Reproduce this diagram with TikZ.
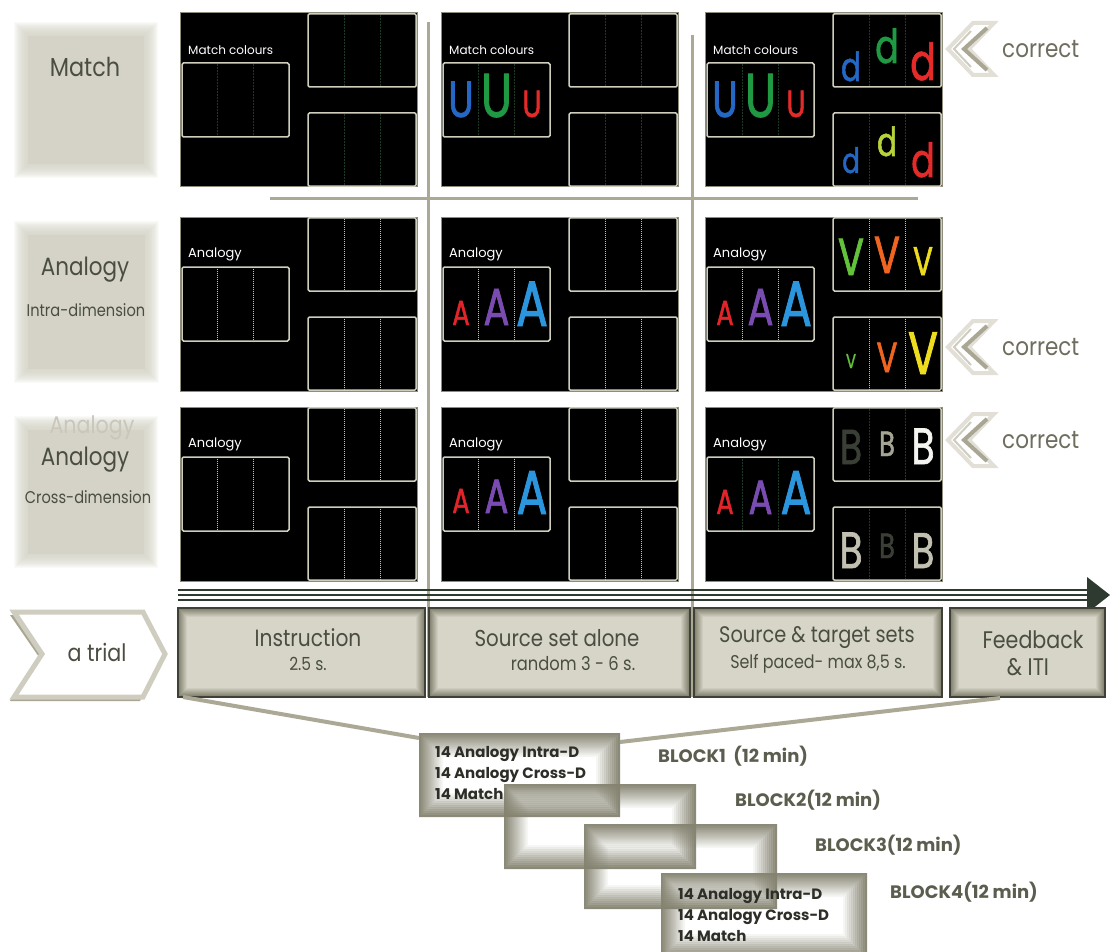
\documentclass[tikz,border=0pt]{standalone}
\usepackage{fontspec}
\setmainfont{Poppins}[FakeStretch=0.86]
\newfontfamily\glyphfont{Poppins}[FakeStretch=0.74,FakeBold=1.3]
\newfontfamily\widefont{Poppins}
\usetikzlibrary{calc}
\definecolor{labbg}{HTML}{D5D3C7}
\definecolor{labtext}{HTML}{4A4E41}
\definecolor{ghostc}{HTML}{C9C7BC}
\definecolor{sepc}{HTML}{ABA996}
\definecolor{panelbd}{HTML}{8E8C7A}
\definecolor{framec}{HTML}{CFCDBB}
\definecolor{divdark}{HTML}{1E3A26}
\definecolor{divlight}{HTML}{C4C2AE}
\definecolor{tline}{HTML}{2E3A2F}
\definecolor{bevedge}{HTML}{7E7C69}
\definecolor{bevfill}{HTML}{D8D6C9}
\definecolor{bevdark}{HTML}{3F4136}
\definecolor{blkedge}{HTML}{858370}
\definecolor{blktext}{HTML}{2C2E27}
\definecolor{blklab}{HTML}{5B5D4E}
\definecolor{chevbd}{HTML}{CFCDBF}
\definecolor{chevsh}{HTML}{A9A794}
\definecolor{chevglow}{HTML}{E2E0D6}
\definecolor{corrtext}{HTML}{6E6D5E}
\definecolor{funnelc}{HTML}{ABA996}
\definecolor{ublue}{HTML}{2467C4}
\definecolor{ugreen}{HTML}{1F9A43}
\definecolor{ured}{HTML}{E42B2A}
\definecolor{dyg}{HTML}{B7D33A}
\definecolor{ared}{HTML}{E3242B}
\definecolor{apurple}{HTML}{7A4CB2}
\definecolor{ablue}{HTML}{2B95DD}
\definecolor{vgreen}{HTML}{63C13A}
\definecolor{vorange}{HTML}{F0651F}
\definecolor{vyellow}{HTML}{EEDC1E}
\definecolor{bdark}{HTML}{3A3F35}
\definecolor{bgray}{HTML}{A5A495}
\definecolor{bwhite}{HTML}{F4F4F0}
\definecolor{blight}{HTML}{C2C1B1}

\newcommand\scrpanel[5]{%
\begin{scope}[shift={(#2,#3)}]
\node[scrbox] (#1) at (0,0) {};
\draw[frm] (2,50) rectangle (109,124);
\draw[#5] (37.7,51.5)--(37.7,122.5) (73.3,51.5)--(73.3,122.5);
\draw[frm] (128,0.8) rectangle (236.2,74);
\draw[#5] (164,2)--(164,73) (200,2)--(200,73);
\draw[frm] (128,100) rectangle (236.2,173.2);
\draw[#5] (164,101.5)--(164,172) (200,101.5)--(200,172);
\node[scrlab] (#1l) at (8,37) {#4};
\end{scope}}

\newcommand\glyph[6]{\node[glyphst, text=#5, font=\glyphfont\fontsize{#4}{#4}\selectfont] (#1) at (#2,#3) {#6};}

\newcommand\softbox[5]{%
\foreach \k in {14,13,...,1}{\fill[labbg, opacity=0.11] ({#2-\k},{#3-\k}) rectangle ({#4+\k},{#5+\k});}
\node[fill=labbg, inner sep=0, outer sep=0, anchor=north west, minimum width={#4-#2}, minimum height={#5-#3}] (#1) at (#2,#3) {};}

\newcommand\corrmark[3]{%
\begin{scope}[shift={(#2,#3)}]
\draw[line width=4, chevglow, fill=white, line join=miter] (0,0) -- (25,-26) -- (46,-26) -- (21,0) -- (46,26) -- (25,26) -- cycle;
\draw[line width=4, chevsh, line join=miter] (39,-21) -- (16,0) -- (39,21);
\draw[line width=2, chevbd, line join=miter] (23,-18) -- (6,0) -- (23,18);
\node[corr, anchor=west] (#1) at (54,0) {correct};
\end{scope}}

\begin{document}
\begin{tikzpicture}[x=1pt,y=-1pt,
  scrbox/.style={fill=black, draw=panelbd, line width=1, anchor=north west, minimum width=237, minimum height=174, inner sep=0, outer sep=0},
  frm/.style={draw=framec, line width=1.5, rounded corners=1.5},
  dvd/.style={divdark, line width=0.6, dash pattern=on 2pt off 1pt},
  dvl/.style={divlight, line width=0.8, dash pattern=on 1pt off 1pt},
  scrlab/.style={anchor=west, text=white, inner sep=0},
  glyphst/.style={anchor=base, inner sep=0},
  lab/.style={text=labtext, inner sep=0},
  sep/.style={sepc, line width=3},
  corr/.style={text=corrtext, inner sep=0, font=\fontsize{25}{25}\selectfont},
  trialbox/.style={anchor=north west, inner sep=0, outer sep=0, fill=bevfill, draw=bevdark, line width=1.2,
    path picture={\foreach \k in {0,...,9}{\pgfmathtruncatemacro\pc{100-\k*11}
      \fill[bevedge!\pc!bevfill] ([xshift=\k pt,yshift=-\k pt]path picture bounding box.north west) rectangle ([xshift=-\k pt,yshift=\k pt]path picture bounding box.south east);}}},
  blockbox/.style={anchor=north west, inner sep=0, outer sep=0,
    path picture={\foreach \k in {0,...,11}{\pgfmathsetmacro\op{0.95-\k*0.08}\pgfmathsetmacro\ka{2*\k}\pgfmathsetmacro\kb{2*\k+2}
      \fill[blkedge, fill opacity=\op, even odd rule] ([xshift=\ka pt,yshift=-\ka pt]path picture bounding box.north west) rectangle ([xshift=-\ka pt,yshift=\ka pt]path picture bounding box.south east)
        ([xshift=\kb pt,yshift=-\kb pt]path picture bounding box.north west) rectangle ([xshift=-\kb pt,yshift=\kb pt]path picture bounding box.south east);}}},
  blktxt/.style={text=blktext, inner sep=0, align=left, anchor=north west, font=\widefont\bfseries\fontsize{15}{21}\selectfont},
  blklabel/.style={text=blklab, inner sep=0, anchor=west, font=\widefont\bfseries\fontsize{18}{18}\selectfont},
  funnel/.style={funnelc, line width=4}
]
\useasboundingbox (0,0) rectangle (1110,952);
\fill[white] (0,0) rectangle (1110,952);

% left labels
\softbox{boxmatch}{28}{36}{144}{164}
\softbox{boxintra}{28}{235}{145}{369}
\softbox{boxcross}{28}{430}{144}{554}
\node[lab, font=\fontsize{26}{26}\selectfont] (lmatch) at (85,67) {Match};
\node[lab, font=\fontsize{25}{25}\selectfont] (lintra) at (85,270) {Analogy};
\node[lab, font=\fontsize{17}{17}\selectfont] (lintrad) at (86,310) {Intra-dimension};
\node[text=ghostc, inner sep=0, font=\fontsize{24}{24}\selectfont] (lghost) at (92,428) {Analogy};
\node[lab, font=\fontsize{25}{25}\selectfont] (lcross) at (85,460) {Analogy};
\node[lab, font=\fontsize{17}{17}\selectfont] (lcrossd) at (88,497) {Cross-dimension};

% separators
\draw[sep] (428,22) -- (428,697);
\draw[sep] (692,35) -- (692,697);
\draw[sep] (270,198) -- (918,198);

% panels
\scrpanel{p11}{180}{13}{\widefont\fontsize{12}{12}\selectfont Match colours}{dvd}
\scrpanel{p12}{441}{13}{\widefont\fontsize{12}{12}\selectfont Match colours}{dvd}
\scrpanel{p13}{705}{13}{\widefont\fontsize{12}{12}\selectfont Match colours}{dvd}
\scrpanel{p21}{180}{217}{\widefont\fontsize{13}{13}\selectfont Analogy}{dvl}
\scrpanel{p22}{441}{217}{\widefont\fontsize{13}{13}\selectfont Analogy}{dvl}
\scrpanel{p23}{705}{217}{\widefont\fontsize{13}{13}\selectfont Analogy}{dvl}
\scrpanel{p31}{180}{407}{\widefont\fontsize{13}{13}\selectfont Analogy}{dvl}
\scrpanel{p32}{441}{407}{\widefont\fontsize{13}{13}\selectfont Analogy}{dvl}
\scrpanel{p33}{705}{407}{\widefont\fontsize{13}{13}\selectfont Analogy}{dvd}

% row 1 letters
\glyph{u21}{461}{117}{51}{ublue}{U}
\glyph{u22}{496.5}{117}{62}{ugreen}{U}
\glyph{u23}{532}{117}{38}{ured}{U}
\glyph{u31}{725}{117}{51}{ublue}{U}
\glyph{u32}{760.5}{117}{62}{ugreen}{U}
\glyph{u33}{796}{117}{38}{ured}{U}
\glyph{d1}{851}{81}{40}{ublue}{d}
\glyph{d2}{887}{63}{47}{ugreen}{d}
\glyph{d3}{923}{80}{51}{ured}{d}
\glyph{d4}{851}{173}{35}{ublue}{d}
\glyph{d5}{887}{156}{40}{dyg}{d}
\glyph{d6}{923}{177}{47}{ured}{d}
% row 2 letters
\glyph{a21}{461}{325}{35}{ared}{A}
\glyph{a22}{496.5}{325}{52}{apurple}{A}
\glyph{a23}{532}{326}{64}{ablue}{A}
\glyph{a31}{725}{325}{35}{ared}{A}
\glyph{a32}{760.5}{325}{52}{apurple}{A}
\glyph{a33}{796}{326}{64}{ablue}{A}
\glyph{v1}{851}{275}{52}{vgreen}{V}
\glyph{v2}{887}{273}{52}{vorange}{V}
\glyph{v3}{923}{275}{40}{vyellow}{V}
\glyph{v4}{851}{368}{20}{vgreen}{V}
\glyph{v5}{887}{372}{42}{vorange}{V}
\glyph{v6}{923}{374}{60}{vyellow}{V}
% row 3 letters
\glyph{b21}{461}{513}{35}{ared}{A}
\glyph{b22}{496.5}{513}{48}{apurple}{A}
\glyph{b23}{532}{514}{62}{ablue}{A}
\glyph{b31}{725}{514}{35}{ared}{A}
\glyph{b32}{760.5}{514}{48}{apurple}{A}
\glyph{b33}{796}{514}{62}{ablue}{A}
\glyph{bb1}{851}{464}{49}{bdark}{B}
\glyph{bb2}{887}{456}{35}{bgray}{B}
\glyph{bb3}{923}{464}{51}{bwhite}{B}
\glyph{bb4}{851}{568}{51}{blight}{B}
\glyph{bb5}{887}{558}{35}{bdark}{B}
\glyph{bb6}{923}{568}{50}{blight}{B}

% correct marks
\corrmark{c1}{948}{49}
\corrmark{c2}{948}{347}
\corrmark{c3}{948}{440}

% timeline
\coordinate (tl0) at (178,595);
\coordinate (tl1) at (1087,595);
\coordinate (tltip) at (1110,595);
\foreach \dy in {-5,0,5}{\draw[tline, line width=2.4] ([yshift=\dy pt]tl0) -- ([yshift=\dy pt]tl1);}
\fill[tline] ([yshift=18pt]tl1) -- (tltip) -- ([yshift=-18pt]tl1) -- cycle;

% a trial chevron
\fill[chevsh] (10,615)--(140,615)--(162,657)--(140,701)--(10,701)--(39,657)--cycle;
\draw[chevbd, line width=5, fill=white, line join=miter] (14,612)--(143,612)--(165,654)--(143,697)--(14,697)--(42,654)--cycle;
\node[lab, font=\fontsize{24}{24}\selectfont] (trial) at (97,652) {a trial};

% trial boxes
\node[trialbox, minimum width=247, minimum height=89] (tb1) at (178,608) {};
\node[trialbox, minimum width=261, minimum height=89] (tb2) at (429,608) {};
\node[trialbox, minimum width=248, minimum height=89] (tb3) at (694,608) {};
\node[trialbox, minimum width=155, minimum height=89] (tb4) at (950,608) {};
\node[lab, font=\fontsize{23.5}{23.5}\selectfont] (tb1a) at (308,638) {Instruction};
\node[lab, font=\fontsize{18}{18}\selectfont] (tb1b) at (308,664) {2.5 s.};
\node[lab, font=\fontsize{23}{23}\selectfont] (tb2a) at (557,638) {Source set alone};
\node[lab, font=\fontsize{19}{19}\selectfont] (tb2b) at (573,664) {random 3 - 6 s.};
\node[lab, font=\fontsize{22.5}{22.5}\selectfont] (tb3a) at (817,638) {Source \& target sets};
\node[lab, font=\fontsize{18.5}{18.5}\selectfont] (tb3b) at (818,664) {Self paced- max 8,5 s.};
\node[lab, font=\fontsize{24}{24}\selectfont] (tb4a) at (1033,640) {Feedback};
\node[lab, font=\fontsize{24}{24}\selectfont] (tb4b) at (1028,667) {\& ITI};

% blocks
\node[blockbox, minimum width=201, minimum height=84] (blk1) at (419,733) {};
\node[blockbox, minimum width=192, minimum height=85] (blk2) at (504,784) {};
\node[blockbox, minimum width=193, minimum height=85] (blk3) at (584,824) {};
\node[blockbox, minimum width=206, minimum height=85] (blk4) at (661,873) {};
\coordinate (fbpt) at (1000,698);
\draw[funnel] ([xshift=5pt]tb1.south west) -- ([yshift=-5pt]blk1.north west);
\draw[funnel] (fbpt) -- ([yshift=-9pt]blk1.north east);
\node[blktxt] (blk1t) at (435,746) {14 Analogy Intra-D\\14 Analogy Cross-D\\14 Match};
\node[blktxt] (blk4t) at (678,888) {14 Analogy Intra-D\\14 Analogy Cross-D\\14 Match};
\node[blklabel] (bl1) at (658,756) {BLOCK1\ \ (12 min)};
\node[blklabel] (bl2) at (735,800) {BLOCK2(12 min)};
\node[blklabel] (bl3) at (815,845) {BLOCK3(12 min)};
\node[blklabel] (bl4) at (890,892) {BLOCK4(12 min)};
\end{tikzpicture}
\end{document}
